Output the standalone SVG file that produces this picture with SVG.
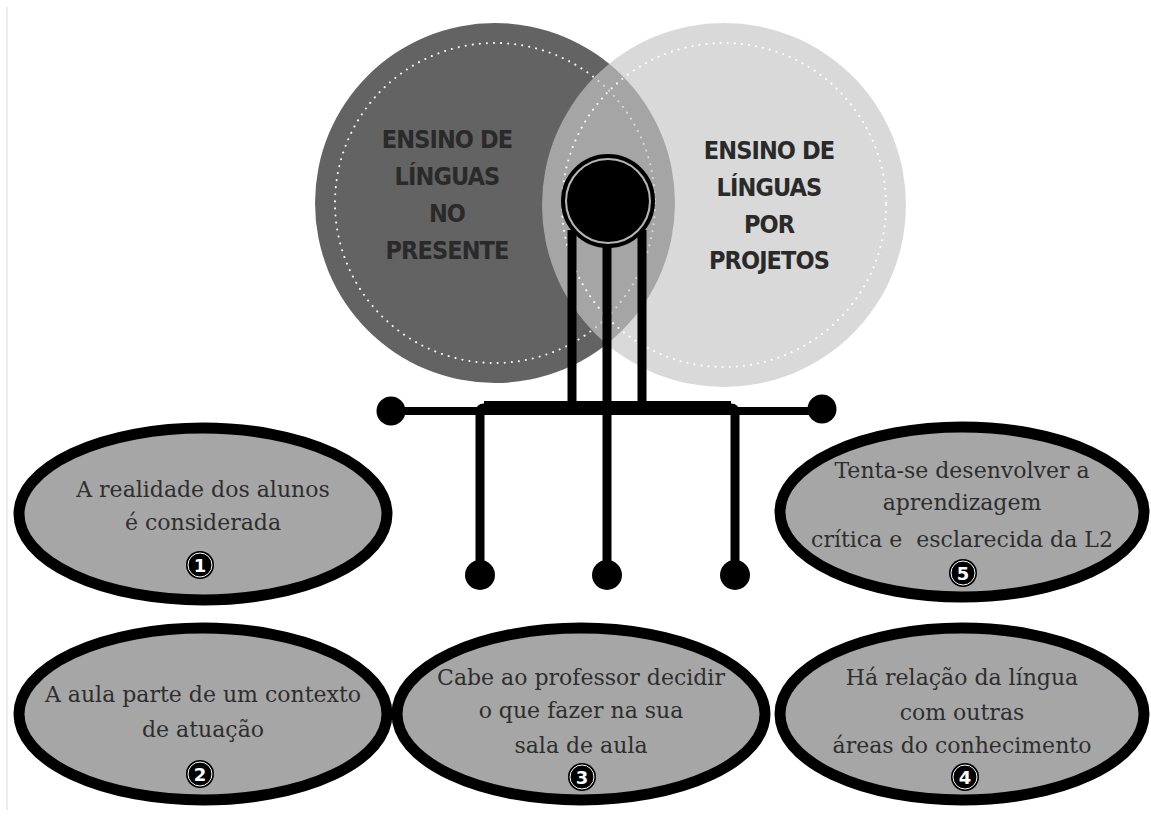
<svg xmlns="http://www.w3.org/2000/svg" width="1151" height="818" viewBox="0 0 1151 818">
<style>
.title{font-family:"DejaVu Sans Condensed","Roboto",sans-serif;font-weight:bold;font-size:25px;letter-spacing:-0.9px;fill:#2a2a2a;text-anchor:middle}
.oval{fill:#a6a6a6;stroke:#000;stroke-width:11}
.lbl{font-family:"DejaVu Serif","Liberation Serif",serif;font-size:22px;fill:#2e2e2e;text-anchor:middle}
.badge{fill:#000}
.ring{fill:none;stroke:#fff;stroke-width:1}
.num{font-family:"DejaVu Sans","Liberation Sans",sans-serif;font-weight:bold;font-size:18px;fill:#fff;text-anchor:middle}
.dots{fill:none;stroke:#fff;stroke-width:2;stroke-dasharray:0.1 7;stroke-linecap:round}
.wire{stroke:#000;fill:none}
</style>
<rect width="1151" height="818" fill="#fff"/>
<line x1="7" y1="7" x2="7" y2="810" stroke="#ececec" stroke-width="2"/>

<g id="circle-presente">
<circle cx="495" cy="203" r="180" fill="#636363"/>
<circle class="dots" cx="495" cy="203" r="160"/>
</g>
<g id="circle-projetos">
<circle cx="724" cy="205" r="182" fill="#c6c6c6" fill-opacity="0.67"/>
<circle class="dots" cx="724" cy="205" r="162"/>
</g>
<g id="titles">
<text class="title"><tspan x="447" y="148">ENSINO DE</tspan><tspan x="447" y="185">LÍNGUAS</tspan><tspan x="447" y="222">NO</tspan><tspan x="447" y="259">PRESENTE</tspan></text>
<text class="title"><tspan x="769" y="159">ENSINO DE</tspan><tspan x="769" y="196">LÍNGUAS</tspan><tspan x="769" y="233">POR</tspan><tspan x="769" y="269">PROJETOS</tspan></text>
</g>

<g id="connectors">
<line class="wire" x1="572" y1="230" x2="572" y2="408" stroke-width="9"/>
<line class="wire" x1="607" y1="240" x2="607" y2="575" stroke-width="9"/>
<line class="wire" x1="642" y1="230" x2="642" y2="408" stroke-width="9"/>
<line class="wire" x1="391" y1="411" x2="822" y2="411" stroke-width="8"/>
<path class="wire" d="M480 575 V412 Q480 408 484 408 H731 Q735 408 735 412 V575" stroke-width="9" stroke-linejoin="round"/>
<line class="wire" x1="484" y1="406" x2="731" y2="406" stroke-width="10"/>
<circle cx="391" cy="411" r="14.5" fill="#000"/>
<circle cx="822" cy="409" r="14.5" fill="#000"/>
<circle cx="480" cy="575" r="15" fill="#000"/>
<circle cx="607" cy="575" r="15" fill="#000"/>
<circle cx="735" cy="575" r="15" fill="#000"/>
</g>

<g id="hub">
<circle cx="608" cy="201" r="45" fill="#b5b5b5" stroke="#000" stroke-width="4"/>
<circle cx="608" cy="201" r="41" fill="#000"/>
</g>

<g id="node1">
<ellipse class="oval" cx="203" cy="514" rx="184" ry="86"/>
<text class="lbl"><tspan x="203" y="497">A realidade dos alunos</tspan><tspan x="203" y="530">é considerada</tspan></text>
<circle class="badge" cx="200" cy="565" r="14"/><circle class="ring" cx="200" cy="565" r="12"/>
<text class="num" x="200" y="571.5">1</text>
</g>

<g id="node2">
<ellipse class="oval" cx="203" cy="714" rx="184" ry="86"/>
<text class="lbl"><tspan x="203" y="702">A aula parte de um contexto</tspan><tspan x="203" y="737">de atuação</tspan></text>
<circle class="badge" cx="200" cy="774" r="14"/><circle class="ring" cx="200" cy="774" r="12"/>
<text class="num" x="200" y="780.5">2</text>
</g>

<g id="node3">
<ellipse class="oval" cx="581" cy="714" rx="184" ry="86"/>
<text class="lbl"><tspan x="581" y="685">Cabe ao professor decidir</tspan><tspan x="581" y="718">o que fazer na sua</tspan><tspan x="581" y="753">sala de aula</tspan></text>
<circle class="badge" cx="582" cy="777" r="14"/><circle class="ring" cx="582" cy="777" r="12"/>
<text class="num" x="582" y="783.5">3</text>
</g>

<g id="node4">
<ellipse class="oval" cx="962" cy="714" rx="182" ry="86"/>
<text class="lbl"><tspan x="962" y="685">Há relação da língua</tspan><tspan x="962" y="720">com outras</tspan><tspan x="962" y="753">áreas do conhecimento</tspan></text>
<circle class="badge" cx="965" cy="777" r="14"/><circle class="ring" cx="965" cy="777" r="12"/>
<text class="num" x="965" y="783.5">4</text>
</g>

<g id="node5">
<ellipse class="oval" cx="962" cy="512" rx="182" ry="85"/>
<text class="lbl"><tspan x="962" y="478">Tenta-se desenvolver a</tspan><tspan x="962" y="510">aprendizagem</tspan><tspan x="962" y="547" xml:space="preserve">crítica e  esclarecida da L2</tspan></text>
<circle class="badge" cx="963" cy="573" r="14"/><circle class="ring" cx="963" cy="573" r="12"/>
<text class="num" x="963" y="579.5">5</text>
</g>
</svg>
